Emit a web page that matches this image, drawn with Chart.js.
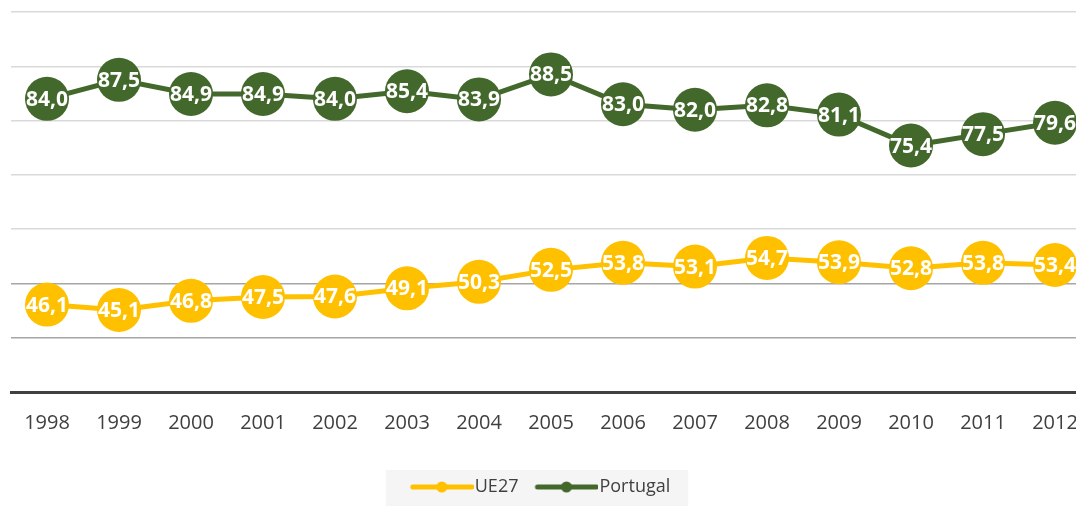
<!DOCTYPE html>
<html>
<head>
<meta charset="utf-8">
<script src="https://cdn.jsdelivr.net/npm/chart.js@4.4.0/dist/chart.umd.min.js"></script>
<style>
  html, body { margin: 0; padding: 0; background: #fff; overflow: hidden; }
  #wrap { width: 1092px; height: 506px; }
</style>
</head>
<body>
<div id="wrap"><canvas id="chart"></canvas></div>
<script>
const years = ["1998", "1999", "2000", "2001", "2002", "2003", "2004", "2005",
  "2006", "2007", "2008", "2009", "2010", "2011", "2012"];
const ue27 = [46.1, 45.1, 46.8, 47.5, 47.6, 49.1, 50.3, 52.5, 53.8, 53.1, 54.7, 53.9, 52.8, 53.8, 53.4];
const portugal = [84.0, 87.5, 84.9, 84.9, 84.0, 85.4, 83.9, 88.5, 83.0, 82.0, 82.8, 81.1, 75.4, 77.5, 79.6];

const gold = "#FFC000";
const green = "#43682B";

// legend icon: line with a dot, a bit wider than the box so it sits close to the text
const legendIcon = (color) => {
  const c = document.createElement("canvas");
  c.width = 78;
  c.height = 14;
  const ctx = c.getContext("2d");
  ctx.strokeStyle = color;
  ctx.lineWidth = 5;
  ctx.lineCap = "round";
  ctx.beginPath();
  ctx.moveTo(17, 7);
  ctx.lineTo(76, 7);
  ctx.stroke();
  ctx.fillStyle = color;
  ctx.beginPath();
  ctx.arc(46, 7, 5.5, 0, Math.PI * 2);
  ctx.fill();
  return c;
};

const valueLabels = {
  id: "valueLabels",
  afterDatasetsDraw(chart) {
    const ctx = chart.ctx;
    ctx.save();
    ctx.font = "bold 21px 'Open Sans', sans-serif";
    ctx.fillStyle = "#fff";
    ctx.textAlign = "center";
    ctx.textBaseline = "middle";
    chart.data.datasets.forEach((ds, i) => {
      chart.getDatasetMeta(i).data.forEach((pt, j) => {
        ctx.fillText(ds.data[j].toFixed(1).replace(".", ","), pt.x, pt.y + 1);
      });
    });
    ctx.restore();
  },
};

// shift the legend a little to the left (plot runs past the page edge) and paint its grey box
const legendBox = {
  id: "legendBox",
  afterLayout(chart) {
    chart.legend.left -= 14;
    chart.legend.right -= 14;
  },
  beforeDraw(chart) {
    const lg = chart.legend;
    if (!lg || !lg.legendHitBoxes.length) return;
    const boxes = lg.legendHitBoxes;
    const first = boxes[0];
    const last = boxes[boxes.length - 1];
    const ctx = chart.ctx;
    ctx.save();
    ctx.fillStyle = "#f5f5f5";
    const left = first.left - 18;
    ctx.fillRect(left, 470, last.left + last.width + 18 - left, 40);
    ctx.restore();
  },
};

new Chart(document.getElementById("chart"), {
  type: "line",
  data: {
    labels: years,
    datasets: [
      {
        label: "UE27",
        data: ue27,
        borderColor: gold,
        backgroundColor: gold,
        borderWidth: 5,
        pointRadius: 22,
        pointHoverRadius: 22,
        pointBorderWidth: 0,
        pointBackgroundColor: gold,
        tension: 0,
      },
      {
        label: "Portugal",
        data: portugal,
        borderColor: green,
        backgroundColor: green,
        borderWidth: 5,
        pointRadius: 22,
        pointHoverRadius: 22,
        pointBorderWidth: 0,
        pointBackgroundColor: green,
        tension: 0,
      },
    ],
  },
  options: {
    responsive: true,
    maintainAspectRatio: false,
    animation: false,
    layout: { autoPadding: false, padding: { top: 12, left: 11, right: 1, bottom: 0 } },
    plugins: {
      tooltip: { enabled: false },
      legend: {
        position: "bottom",
        labels: {
          usePointStyle: true,
          pointStyleWidth: 62,
          padding: 10,
          font: { family: "'Open Sans', sans-serif", size: 18 },
          color: "#404040",
          generateLabels: (chart) =>
            chart.data.datasets.map((ds, i) => ({
              text: ds.label,
              pointStyle: legendIcon(ds.borderColor),
              fillStyle: ds.borderColor,
              strokeStyle: ds.borderColor,
              fontColor: "#404040",
              lineWidth: 0,
              hidden: false,
              datasetIndex: i,
            })),
        },
      },
    },
    scales: {
      x: {
        offset: true,
        grid: { display: false },
        border: { color: "#404040", width: 3 },
        ticks: {
          color: "#404040",
          padding: 11,
          font: { family: "'Open Sans', sans-serif", size: 20 },
        },
        afterFit: (s) => { s.height = 76; },
      },
      y: {
        min: 30,
        max: 100,
        ticks: { display: false, stepSize: 10 },
        border: { display: false },
        grid: {
          drawTicks: false,
          color: (c) => (c.tick && c.tick.value <= 50 ? "#a6a6a6" : "#d9d9d9"),
          lineWidth: 1.5,
        },
        afterFit: (s) => { s.width = 0; },
      },
    },
  },
  plugins: [legendBox, valueLabels],
});
</script>
</body>
</html>
